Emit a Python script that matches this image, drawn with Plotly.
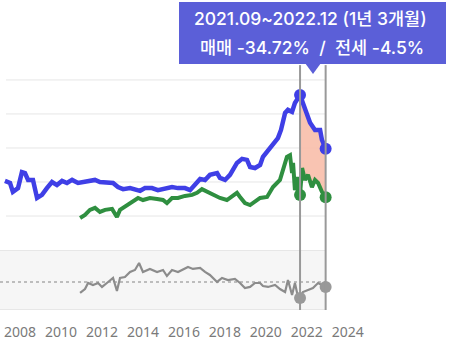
import numpy as np
import plotly.graph_objects as go

# ---------------- data ----------------
# 매매 (sale price) series, upper panel
sale_year = [2007.26, 2007.51, 2007.65, 2007.90, 2008.09, 2008.24, 2008.39, 2008.63, 2008.83, 2009.07,
             2009.31, 2009.56, 2009.80, 2010.05, 2010.29, 2010.54, 2010.83, 2011.07, 2011.41, 2011.66,
             2011.90, 2012.24, 2012.54, 2012.78, 2013.03, 2013.37, 2013.71, 2013.86, 2014.10, 2014.44,
             2014.73, 2015.08, 2015.42, 2015.71, 2016.05, 2016.30, 2016.54, 2016.79, 2017.03, 2017.27,
             2017.62, 2017.76, 2018.01, 2018.25, 2018.59, 2018.84, 2019.08, 2019.23, 2019.47, 2019.72,
             2019.86, 2020.06, 2020.35, 2020.59, 2020.74, 2020.94, 2021.08, 2021.28, 2021.42, 2021.57,
             2021.67, 2021.81, 2022.01, 2022.16, 2022.40, 2022.65, 2022.74, 2022.92]
sale_val = [2.03, 1.97, 1.71, 1.82, 2.29, 2.26, 2.06, 2.06, 1.53, 1.62,
            1.82, 2.00, 1.91, 2.03, 1.97, 2.06, 1.97, 2.00, 2.06, 2.06,
            2.00, 2.00, 1.97, 1.85, 1.79, 1.82, 1.76, 1.74, 1.82, 1.82,
            1.76, 1.82, 1.85, 1.82, 1.82, 1.76, 1.91, 2.09, 2.06, 2.21,
            2.26, 2.12, 2.06, 2.21, 2.56, 2.68, 2.65, 2.44, 2.41, 2.50,
            2.74, 2.88, 3.12, 3.29, 3.53, 4.03, 4.12, 4.06, 4.32, 4.47,
            4.56, 4.32, 4.03, 3.74, 3.53, 3.53, 3.24, 2.98]

# 전세 (jeonse) series, upper panel
rent_year = [2010.93, 2011.17, 2011.41, 2011.66, 2011.90, 2012.15, 2012.49, 2012.73, 2012.88, 2013.22,
             2013.51, 2013.76, 2014.00, 2014.34, 2014.69, 2014.98, 2015.17, 2015.42, 2015.71, 2016.05,
             2016.40, 2016.64, 2016.88, 2017.13, 2017.42, 2017.76, 2018.10, 2018.35, 2018.59, 2018.74,
             2018.98, 2019.23, 2019.47, 2019.72, 2020.06, 2020.35, 2020.69, 2020.84, 2021.03, 2021.18,
             2021.28, 2021.33, 2021.42, 2021.52, 2021.57, 2021.67, 2021.77, 2021.91, 2022.06, 2022.25,
             2022.40, 2022.55, 2022.74, 2022.92]
rent_val = [0.94, 1.03, 1.18, 1.24, 1.12, 1.18, 1.21, 0.97, 1.18, 1.32,
            1.41, 1.53, 1.47, 1.53, 1.50, 1.47, 1.38, 1.53, 1.53, 1.59,
            1.62, 1.68, 1.79, 1.71, 1.62, 1.53, 1.47, 1.59, 1.68, 1.56,
            1.38, 1.32, 1.41, 1.53, 1.56, 1.85, 2.06, 2.35, 2.74, 2.79,
            2.26, 2.56, 1.76, 2.15, 1.62, 1.62, 2.41, 2.06, 2.21, 1.85,
            2.06, 1.97, 1.71, 1.55]

# 전세가율 (ratio, %) lower panel
ratio_year = [2010.93, 2011.17, 2011.32, 2011.56, 2011.81, 2012.00, 2012.24, 2012.54, 2012.73, 2012.88,
              2013.12, 2013.37, 2013.61, 2013.81, 2014.00, 2014.34, 2014.69, 2014.98, 2015.17, 2015.42,
              2015.71, 2016.05, 2016.20, 2016.44, 2016.79, 2017.03, 2017.27, 2017.62, 2017.86, 2018.15,
              2018.49, 2018.74, 2018.98, 2019.23, 2019.47, 2019.72, 2019.86, 2020.11, 2020.45, 2020.69,
              2020.94, 2021.08, 2021.28, 2021.42, 2021.57, 2021.67, 2021.81, 2022.06, 2022.30, 2022.55,
              2022.92]
ratio_val = [47.2, 51.8, 58.8, 56.5, 58.8, 54.2, 58.8, 64.7, 49.5, 64.7,
             65.8, 71.7, 74.0, 82.2, 71.7, 75.2, 71.7, 74.0, 67.0, 74.0,
             71.7, 75.2, 77.5, 75.2, 76.3, 71.7, 68.2, 60.0, 64.7, 62.3,
             63.5, 58.8, 53.0, 54.2, 58.8, 58.8, 55.3, 54.2, 56.5, 51.8,
             48.3, 62.3, 44.8, 58.8, 42.5, 41.3, 48.3, 50.7, 53.0, 58.8,
             54.2]

period_start = 2021.67   # 2021.09
period_end = 2022.92     # 2022.12
ratio_ref = 60.0
grid_vals = [1, 2, 3, 4, 5]
tick_years = [2008, 2010, 2012, 2014, 2016, 2018, 2020, 2022, 2024]
tip_line1 = "2021.09~2022.12 (1년 3개월)"
tip_line2 = "매매 -34.72%&nbsp;&nbsp;/&nbsp;&nbsp;전세 -4.5%"

# ---------------- figure ----------------
X_RANGE = [2007.02, 2029.92]
Y_RANGE = [0, 7.35]
Y2_RANGE = [27.3, 97.3]
SPLIT = 0.1935
BLUE = "#3f3fe6"
GREEN = "#2f8f40"
GREY = "#8c8c8c"
TIPFONT = dict(color="white", size=17.5, family="Inter, Noto Sans CJK KR", weight=500)

fig = go.Figure()

# pink fill between sale and jeonse over the period
sy = np.array(sale_year); sv = np.array(sale_val)
ry = np.array(rent_year); rv = np.array(rent_val)
ms = (sy >= period_start) & (sy <= period_end)
mr = (ry >= period_start) & (ry <= period_end)
poly_x = list(sy[ms]) + list(ry[mr][::-1])
poly_y = list(sv[ms]) + list(rv[mr][::-1])
fig.add_trace(go.Scatter(x=poly_x, y=poly_y, fill="toself", fillcolor="rgba(248,190,170,0.9)",
                         line=dict(width=0), mode="lines", hoverinfo="skip", showlegend=False))

fig.add_trace(go.Scatter(x=rent_year, y=rent_val, mode="lines",
                         line=dict(color=GREEN, width=4), showlegend=False))
fig.add_trace(go.Scatter(x=sale_year, y=sale_val, mode="lines",
                         line=dict(color=BLUE, width=4.5), showlegend=False))

# end markers
def pick(xs, ys, xv):
    i = int(np.argmin(np.abs(np.array(xs) - xv)))
    return xs[i], ys[i]

mk = [pick(rent_year, rent_val, period_start), pick(rent_year, rent_val, period_end)]
fig.add_trace(go.Scatter(x=[m[0] for m in mk], y=[m[1] for m in mk], mode="markers",
                         marker=dict(color=GREEN, size=12), showlegend=False))
mk = [pick(sale_year, sale_val, period_start), pick(sale_year, sale_val, period_end)]
fig.add_trace(go.Scatter(x=[m[0] for m in mk], y=[m[1] for m in mk], mode="markers",
                         marker=dict(color=BLUE, size=12), showlegend=False))

# lower panel
fig.add_trace(go.Scatter(x=[X_RANGE[0], period_end], y=[ratio_ref, ratio_ref], mode="lines",
                         line=dict(color="#aaaaaa", width=1.5, dash="dot"), xaxis="x", yaxis="y2",
                         showlegend=False))
fig.add_trace(go.Scatter(x=ratio_year, y=ratio_val, mode="lines", line=dict(color=GREY, width=2.2),
                         xaxis="x", yaxis="y2", showlegend=False))
mk = [pick(ratio_year, ratio_val, period_start), pick(ratio_year, ratio_val, period_end)]
fig.add_trace(go.Scatter(x=[m[0] for m in mk], y=[m[1] for m in mk], mode="markers",
                         marker=dict(color="#999999", size=12), xaxis="x", yaxis="y2", showlegend=False))

shapes = []
# lower panel background
shapes.append(dict(type="rect", xref="x", yref="y2", x0=X_RANGE[0], x1=period_end,
                   y0=Y2_RANGE[0], y1=Y2_RANGE[1], fillcolor="#f6f6f6", line=dict(width=0), layer="below"))
for yv in Y2_RANGE:
    shapes.append(dict(type="line", xref="x", yref="y2", x0=X_RANGE[0], x1=period_end, y0=yv, y1=yv,
                       line=dict(color="#e2e2e2", width=1.5), layer="below"))
# upper gridlines
for gv in grid_vals:
    shapes.append(dict(type="line", xref="x", yref="y", x0=2007.31, x1=period_end, y0=gv, y1=gv,
                       line=dict(color="#e6e6e6", width=1), layer="below"))
# period vertical lines
for xv in [period_start, period_end]:
    shapes.append(dict(type="line", xref="x", yref="paper", x0=xv, x1=xv, y0=0, y1=0.79,
                       line=dict(color="#999999", width=2)))
# tooltip box and pointer
TIP = "#5b5fd8"
shapes.append(dict(type="rect", xref="paper", yref="paper", x0=179/469, x1=446/469,
                   y0=(310-64)/310, y1=(310-2)/310, fillcolor=TIP, line=dict(width=0)))
shapes.append(dict(type="path", xref="paper", yref="paper",
                   path=f"M {305/469},{(310-63)/310} L {321/469},{(310-63)/310} L {313/469},{(310-74)/310} Z",
                   fillcolor=TIP, line=dict(width=0)))

annotations = [
    dict(text=tip_line1, xref="paper", yref="paper", x=310/469, y=(310-18)/310, showarrow=False,
         xanchor="center", yanchor="middle", font=TIPFONT),
    dict(text=tip_line2, xref="paper", yref="paper", x=312/469, y=(310-47)/310, showarrow=False,
         xanchor="center", yanchor="middle", font=TIPFONT),
]

fig.update_layout(
    width=469, height=347, margin=dict(l=0, r=0, t=0, b=37),
    paper_bgcolor="white", plot_bgcolor="white",
    shapes=shapes, annotations=annotations, showlegend=False,
    xaxis=dict(range=X_RANGE, anchor="y2", tickvals=tick_years, ticktext=[str(t) for t in tick_years],
               showgrid=False, zeroline=False, showline=False, ticks="outside", ticklen=9,
               tickcolor="rgba(0,0,0,0)", tickfont=dict(color="#7a7a7a", size=14, family="Noto Sans")),
    yaxis=dict(domain=[SPLIT, 1], range=Y_RANGE, visible=False),
    yaxis2=dict(domain=[0, SPLIT], range=Y2_RANGE, visible=False),
)

fig.write_html("out.html")
